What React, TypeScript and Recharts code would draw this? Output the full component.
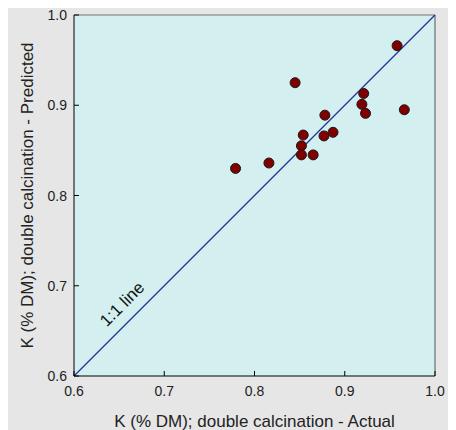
import React from "react";
import { ScatterChart, Scatter, XAxis, YAxis, CartesianGrid, ReferenceLine, ReferenceDot } from "recharts";

// K (% DM), double calcination
const actual = [0.779, 0.816, 0.845, 0.854, 0.852, 0.852, 0.865, 0.878, 0.877, 0.887, 0.921, 0.919, 0.923, 0.958, 0.966];
const predicted = [0.83, 0.836, 0.925, 0.867, 0.855, 0.845, 0.845, 0.889, 0.866, 0.87, 0.913, 0.901, 0.891, 0.966, 0.895];
const ticks = [0.6, 0.7, 0.8, 0.9, 1.0];
const lineLabelAt = { x: 0.653, y: 0.68 };

const points = actual.map((a, i) => ({ x: a, y: predicted[i] }));

const XTick = ({ x, y, payload }: any) => {
  const ay = y - 8;
  return (
    <g>
      <line x1={x} x2={x} y1={ay} y2={ay - 5} stroke="#000" />
      <text x={x} y={ay + 20} textAnchor="middle" fontSize={14} fill="#222">
        {Number(payload.value).toFixed(1)}
      </text>
    </g>
  );
};

const YTick = ({ x, y, payload }: any) => {
  const ax = x + 7;
  return (
    <g>
      <line x1={ax} x2={ax + 5} y1={y} y2={y} stroke="#000" />
      <text x={x} y={y + 5} textAnchor="end" fontSize={14} fill="#222">
        {Number(payload.value).toFixed(1)}
      </text>
    </g>
  );
};

const Dot = ({ cx, cy }: any) => <circle cx={cx} cy={cy} r={5} fill="#800000" stroke="#1a1a1a" strokeWidth={1} />;

export default function App() {
  return (
    <div style={{ marginTop: -8, width: 448, height: 430, background: "#e6e6e6", fontFamily: '"Liberation Sans", Arial, sans-serif' }}>
      <ScatterChart width={448} height={430} margin={{ top: 15, right: 21, left: 0, bottom: 0 }}>
        <CartesianGrid horizontal={false} vertical={false} fill="#d3eff0" />
        <XAxis
          type="number"
          dataKey="x"
          domain={[0.6, 1.0]}
          ticks={ticks}
          height={54}
          tickSize={0}
          tickMargin={8}
          tick={<XTick />}
          axisLine={{ stroke: "#000" }}
          label={{ value: "K (% DM); double calcination - Actual", position: "insideBottom", offset: 3, fontSize: 17, fill: "#222" }}
        />
        <YAxis
          type="number"
          dataKey="y"
          domain={[0.6, 1.0]}
          ticks={ticks}
          width={66}
          tickSize={0}
          tickMargin={7}
          tick={<YTick />}
          axisLine={{ stroke: "#000" }}
          label={{ value: "K (% DM); double calcination - Predicted", angle: -90, position: "insideLeft", offset: 19, fontSize: 17, fill: "#222", style: { textAnchor: "middle" } }}
        />
        <ReferenceLine y={1.0} stroke="#777" />
        <ReferenceLine x={1.0} stroke="#555" />
        <ReferenceLine segment={[{ x: 0.6, y: 0.6 }, { x: 1.0, y: 1.0 }]} stroke="#28309a" strokeWidth={1.2} />
        <ReferenceDot
          x={lineLabelAt.x}
          y={lineLabelAt.y}
          r={0}
          fill="none"
          stroke="none"
          label={{
            content: ({ viewBox }: any) => {
              const cx = viewBox.x + (viewBox.width || 0) / 2;
              const cy = viewBox.y + (viewBox.height || 0) / 2;
              return (
                <text x={cx} y={cy} dy={6} textAnchor="middle" style={{ fontSize: 17 }} fill="#111" transform={`rotate(-45, ${cx}, ${cy})`}>
                  1:1 line
                </text>
              );
            },
          }}
        />
        <Scatter data={points} shape={<Dot />} isAnimationActive={false} />
      </ScatterChart>
    </div>
  );
}
